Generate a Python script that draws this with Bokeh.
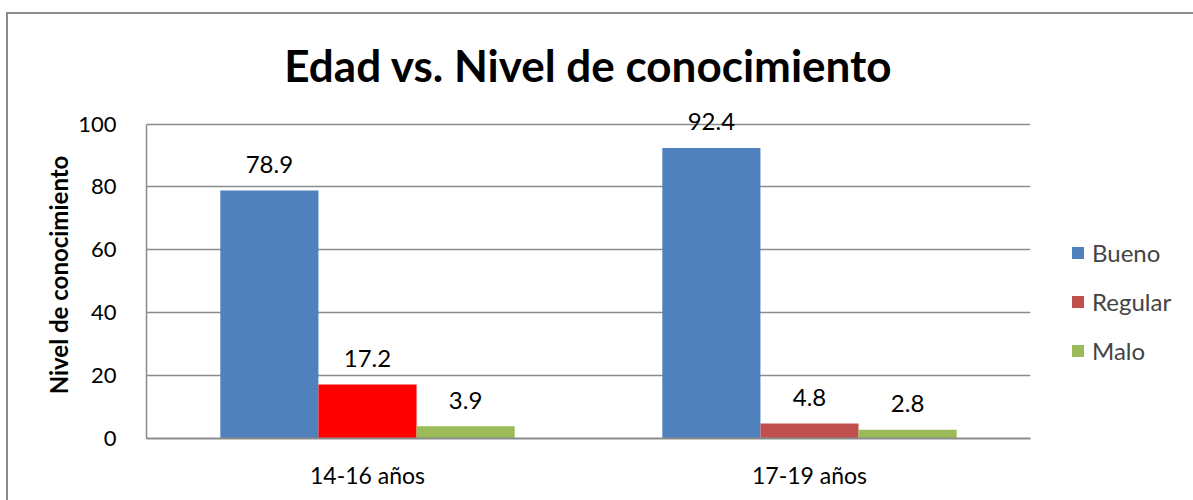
from bokeh.plotting import figure
from bokeh.models import ColumnDataSource, FactorRange, Legend, LegendItem, LabelSet, InlineStyleSheet
from bokeh.core.properties import value
from bokeh.transform import dodge
from bokeh.embed import file_html
from bokeh.resources import INLINE

categories = ["14-16 años", "17-19 años"]
series = ["Bueno", "Regular", "Malo"]
bueno = [78.9, 92.4]
regular = [17.2, 4.8]
malo = [3.9, 2.8]
bueno_colors = ["#4F81BD", "#4F81BD"]
regular_colors = ["#FF0000", "#C0504D"]
malo_colors = ["#9BBB59", "#9BBB59"]
y_ticks = [0, 20, 40, 60, 80, 100]

FONT = "Lato"

p = figure(x_range=FactorRange(*categories), y_range=(0, 104),
           frame_width=884, frame_height=327,
           output_backend="svg", toolbar_location=None,
           min_border_left=146, min_border_right=155, min_border_top=111, min_border_bottom=61)

p.title.text = "Edad vs. Nivel de conocimiento"
p.title.align = "center"
p.title.text_font = FONT
p.title.text_font_size = "44px"
p.title.text_font_style = "bold"
p.title.text_color = "black"
p.title.standoff = 41

bw = 0.222
offsets = [-bw, 0.0, bw]
vals = [bueno, regular, malo]
cols = [bueno_colors, regular_colors, malo_colors]
items = []
for name, off, v, c in zip(series, offsets, vals, cols):
    src = ColumnDataSource(dict(x=categories, y=v, color=c, label=[f"{t:.1f}" for t in v]))
    r = p.vbar(x=dodge("x", off, range=p.x_range), top="y", width=bw, source=src,
               fill_color="color", line_color=None)
    items.append(LegendItem(label=name, renderers=[r], index=1))
    lbl = LabelSet(x=dodge("x", off, range=p.x_range), y="y", text="label", source=src,
                   text_align="center", text_baseline="middle", y_offset=26,
                   text_font=value(FONT), text_font_size=value("24px"), text_color="black")
    p.add_layout(lbl)

legend = Legend(items=items, location=(40, 73), label_text_font=FONT,
                label_text_font_size="24px", glyph_width=15, glyph_height=15,
                label_height=28, spacing=20, border_line_color=None,
                background_fill_alpha=0, label_standoff=7, padding=10, margin=0)
p.add_layout(legend, "right")

p.xgrid.grid_line_color = None
p.ygrid.grid_line_color = "#8C8C8C"
p.ygrid.grid_line_width = 1.5
p.outline_line_color = None

p.yaxis.ticker = y_ticks
p.yaxis.bounds = (0, 100)
p.yaxis.axis_label = "Nivel de conocimiento"
p.yaxis.axis_label_text_font = FONT
p.yaxis.axis_label_text_font_size = "24px"
p.yaxis.axis_label_text_font_style = "bold"
p.yaxis.axis_label_text_color = "black"
p.yaxis.axis_label_standoff = 2
p.yaxis.major_label_text_font = FONT
p.yaxis.major_label_text_font_size = "22px"
p.yaxis.major_label_text_color = "black"
p.yaxis.major_label_standoff = 24
p.yaxis.major_tick_line_color = None
p.yaxis.minor_tick_line_color = None
p.yaxis.axis_line_color = "#8C8C8C"
p.yaxis.axis_line_width = 1.5

p.xaxis.major_label_text_font = FONT
p.xaxis.major_label_text_font_size = "23px"
p.xaxis.major_label_text_color = "black"
p.xaxis.major_label_standoff = 16
p.xaxis.major_tick_line_color = None
p.xaxis.axis_line_color = "#8C8C8C"
p.xaxis.axis_line_width = 2

p.stylesheets = [InlineStyleSheet(css="""
:host::after {
  content: '';
  position: absolute;
  left: 6px; top: 12px; width: 1400px; height: 700px;
  border: 2px solid #8C8C8C;
  pointer-events: none;
  box-sizing: border-box;
}
""")]

open("out.html", "w").write(file_html(p, INLINE))
